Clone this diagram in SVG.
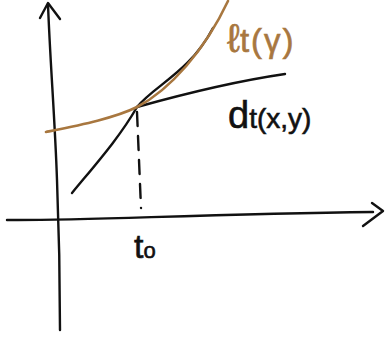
<svg xmlns="http://www.w3.org/2000/svg" width="386" height="341" viewBox="0 0 386 341">
<style>
.ink{fill:none;stroke:#111;stroke-width:2.4;stroke-linecap:round;stroke-linejoin:round}
.brown{fill:none;stroke:#a8773f;stroke-width:2.6;stroke-linecap:round}
.lbl{font-family:"Liberation Sans","DejaVu Sans",sans-serif;fill:#111;stroke:#111;stroke-width:0.6}
</style>
<rect width="386" height="341" fill="#fff"/>
<g id="connectors">
<path class="ink" d="M60,330 C60,290 59,230 57,180 C55,120 50,60 48,4"/>
<path class="ink" d="M40,18 L48,3 L60,19"/>
<path class="ink" d="M7,220 C80,221 200,214 373,212"/>
<path class="ink" d="M372,203 L383,211 L363,226"/>
<path class="ink" d="M137,112 L141,208" stroke-dasharray="14,10" stroke-width="1.8"/>
<path class="ink" d="M72,193 C95,165 120,137 137,107 C155,85 190,72 213,28"/>
<path class="ink" d="M137,107 C180,95 230,82 285,74"/>
<path class="brown" d="M46,132 C80,125 115,118 137,107 C170,90 205,50 228,1"/>
</g>
<g id="label-l">
<text class="lbl" x="227" y="52" font-size="40" style="fill:#a8773f;stroke:#a8773f">ℓ<tspan font-size="33" letter-spacing="2">t(γ)</tspan></text>
</g>
<g id="label-d">
<text class="lbl" x="228" y="128" font-size="38">d<tspan font-size="28">t(x,y)</tspan></text>
</g>
<g id="label-t0">
<text class="lbl" x="134" y="258" font-size="34">t<tspan font-size="22">o</tspan></text>
</g>
</svg>
